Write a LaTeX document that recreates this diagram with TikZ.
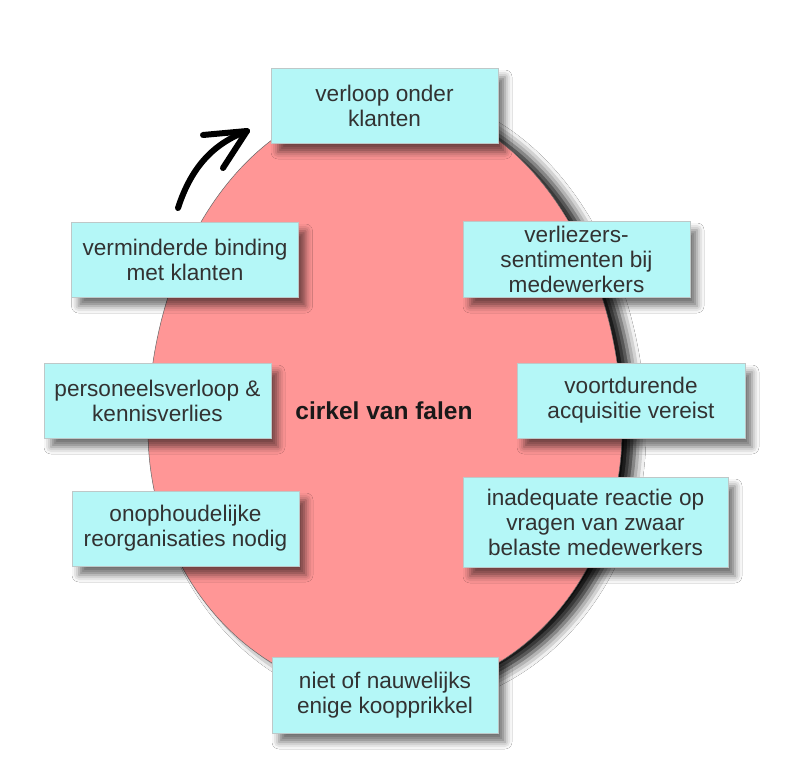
\documentclass[tikz,border=0pt]{standalone}
\usepackage{fontspec}
\setmainfont{Liberation Sans}
\usetikzlibrary{shadows.blur}
\definecolor{eggpink}{RGB}{255,150,150}
\definecolor{boxcyan}{RGB}{180,247,247}
\definecolor{boxlight}{RGB}{240,254,254}
\definecolor{boxtext}{RGB}{50,50,50}
\definecolor{boxedge}{RGB}{190,200,200}
\pgfdeclareverticalshading{cyanbox}{100bp}{
  color(0bp)=(boxlight);
  color(6bp)=(boxlight);
  color(22bp)=(boxcyan);
  color(78bp)=(boxcyan);
  color(90bp)=(boxlight);
  color(100bp)=(boxlight)}
\tikzset{
  cbox/.style={rectangle, draw=boxedge, line width=0.8pt, shading=cyanbox,
    text=boxtext, font=\fontsize{22.6}{25}\selectfont, align=center,
    inner sep=0pt,
    blur shadow={shadow xshift=7pt, shadow yshift=-9pt, shadow blur radius=7pt,
      shadow opacity=55}},
  eggshape/.style={fill=eggpink, draw=black!60, line width=0.5pt,
    blur shadow={shadow xshift=13pt, shadow yshift=-4pt, shadow blur radius=11pt,
      shadow opacity=95}},
  bigarrow/.style={line width=6pt, line cap=round, line join=round, black}
}
\begin{document}
\begin{tikzpicture}[x=1pt,y=-1pt]
\useasboundingbox (0,0) rectangle (804,774);
\fill[white] (0,0) rectangle (804,774);
% egg
\path[eggshape] (148,430)
  arc[start angle=180,end angle=0,x radius=237pt,y radius=330pt]
  arc[start angle=0,end angle=-180,x radius=237pt,y radius=265pt] -- cycle;
\node[font=\fontsize{24.5}{28}\selectfont\bfseries, text={rgb,255:red,25;green,25;blue,25}] (center) at (384,411) {cirkel van falen};
% boxes
\node[cbox, minimum width=227pt, minimum height=75pt] (b1) at (384.5,105.5) {verloop onder\\klanten};
\node[cbox, minimum width=227pt, minimum height=75pt] (b2) at (185,259.5) {verminderde binding\\met klanten};
\node[cbox, minimum width=227pt, minimum height=76pt] (b3) at (576.5,259) {verliezers-\\sentimenten bij\\medewerkers};
\node[cbox, minimum width=227pt, minimum height=75pt] (b4) at (157.5,400.5) {personeelsverloop \&\\kennisverlies};
\node[cbox, minimum width=228pt, minimum height=75pt] (b5) at (631,400.5) {voortdurende\\acquisitie vereist};
\node[cbox, minimum width=227pt, minimum height=75pt] (b6) at (185.5,528.5) {onophoudelijke\\reorganisaties nodig};
\node[cbox, minimum width=265pt, minimum height=90pt] (b7) at (595.5,522) {inadequate reactie op\\vragen van zwaar\\belaste medewerkers};
\node[cbox, minimum width=226pt, minimum height=76pt] (b8) at (385,695) {niet of nauwelijks\\enige koopprikkel};
% arrow
\coordinate (as) at (178,208);
\coordinate (at) at (247,131);
\coordinate (ha) at (203,135);
\coordinate (hb) at (223,168);
\draw[bigarrow] (as) .. controls (192,165) and (215,143) .. (at);
\draw[bigarrow] (ha) -- (at) -- (hb);
\end{tikzpicture}
\end{document}
